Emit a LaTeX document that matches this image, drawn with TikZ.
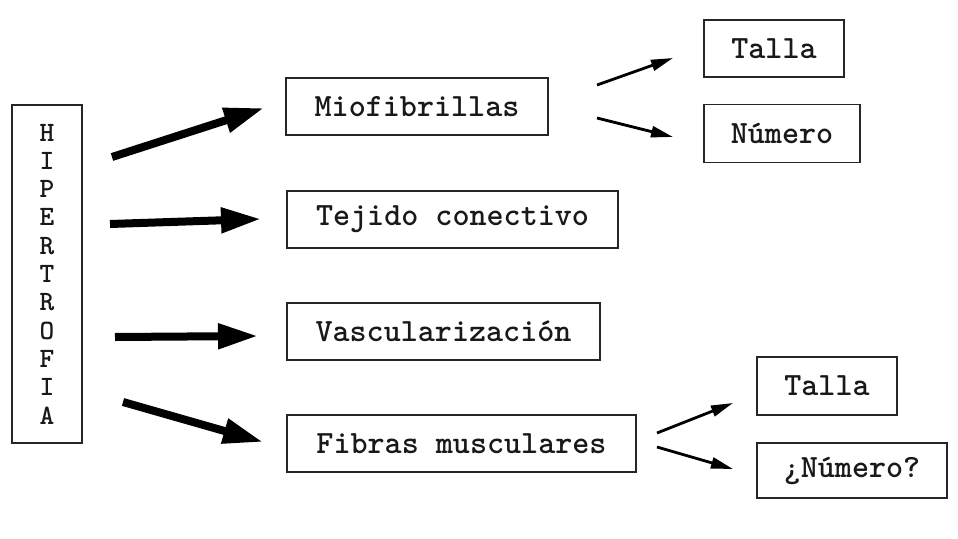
\documentclass[tikz,border=0pt]{standalone}
\usepackage{fontspec}
\usetikzlibrary{arrows.meta}
\begin{document}
\begin{tikzpicture}[x=1pt,y=-1pt,
  box/.style={draw=black!85, line width=1.6pt, inner sep=0pt, text=black!90, font=\ttfamily\bfseries\fontsize{32.5}{32}\selectfont},
  bigarrow/.style={line width=8pt, -{Triangle[length=40pt,width=24pt]}},
  smallarrow/.style={line width=2.8pt, -{Triangle[length=22pt,width=11pt]}}]
\useasboundingbox (0,0) rectangle (958,538);
\node[box, minimum width=70pt, minimum height=338pt, align=center,
  font=\ttfamily\bfseries\fontsize{28}{28.3}\selectfont] (hip) at (47,274)
  {H\\I\\P\\E\\R\\T\\R\\O\\F\\I\\A};
\node[box, minimum width=262pt, minimum height=57pt] (mio) at (417,106.5) {Miofibrillas};
\node[box, minimum width=331pt, minimum height=57pt] (tej) at (452.5,219.5) {Tejido conectivo};
\node[box, minimum width=313pt, minimum height=57pt] (vas) at (443.5,331.5) {Vascularización};
\node[box, minimum width=349pt, minimum height=57pt] (fib) at (461.5,443.5) {Fibras musculares};
\node[box, minimum width=140pt, minimum height=57pt] (t1) at (774,48.5) {Talla};
\node[box, minimum width=156pt, minimum height=58pt] (n1) at (782,133.5) {Número};
\node[box, minimum width=140pt, minimum height=58pt] (t2) at (827,386) {Talla};
\node[box, minimum width=190pt, minimum height=55pt] (n2) at (852,470.5) {¿Número?};
% arrow endpoints
\coordinate (a1s) at (112,157); \coordinate (a1e) at (264,108);
\coordinate (a2s) at (110,224); \coordinate (a2e) at (261,219);
\coordinate (a3s) at (115,337); \coordinate (a3e) at (258,336);
\coordinate (a4s) at (123,402); \coordinate (a4e) at (263,442);
\coordinate (b1s) at (597,85);  \coordinate (b1e) at (673,58);
\coordinate (b2s) at (597,118); \coordinate (b2e) at (673,137);
\coordinate (c1s) at (657,433); \coordinate (c1e) at (733,403);
\coordinate (c2s) at (657,447); \coordinate (c2e) at (733,469);
\draw[bigarrow] (a1s) -- (a1e);
\draw[bigarrow] (a2s) -- (a2e);
\draw[bigarrow] (a3s) -- (a3e);
\draw[bigarrow] (a4s) -- (a4e);
\draw[smallarrow] (b1s) -- (b1e);
\draw[smallarrow] (b2s) -- (b2e);
\draw[smallarrow] (c1s) -- (c1e);
\draw[smallarrow] (c2s) -- (c2e);
\end{tikzpicture}
\end{document}
